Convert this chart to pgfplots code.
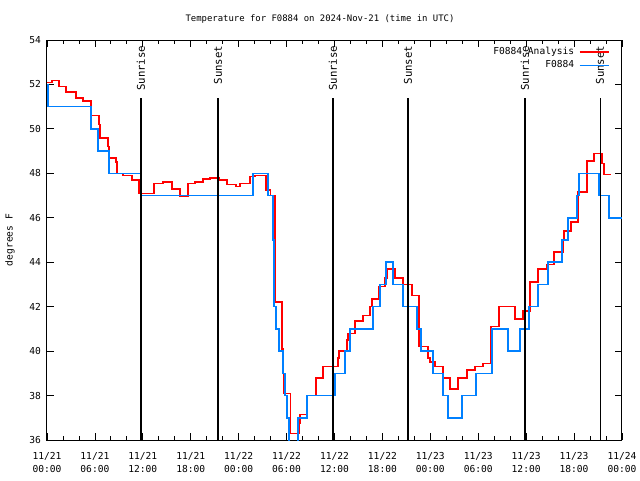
\documentclass[border=0pt]{standalone}
\usepackage{pgfplots}
\pgfplotsset{compat=1.18}
\usepackage{fontspec}
\setmainfont{DejaVu Sans Mono}
\newcommand{\gf}{\fontsize{6.7}{9.75}\selectfont}
\newcommand{\tf}{\fontsize{7.2}{9.75}\selectfont}
\newcommand{\sunf}{\fontsize{8}{9}\selectfont}
\definecolor{gblue}{RGB}{0,128,255}
\begin{document}
\begin{tikzpicture}
\path[use as bounding box] (-35.25pt,-30pt) rectangle (444.75pt,330pt);
\begin{axis}[
  at={(0,0)}, anchor=south west,
  scale only axis, width=431.25pt, height=300pt,
  xmin=0, xmax=72, ymin=36, ymax=54,
  xtick={0,6,...,72},
  xticklabels={{11/21\\00:00},{11/21\\06:00},{11/21\\12:00},{11/21\\18:00},{11/22\\00:00},{11/22\\06:00},{11/22\\12:00},{11/22\\18:00},{11/23\\00:00},{11/23\\06:00},{11/23\\12:00},{11/23\\18:00},{11/24\\00:00}},
  xticklabel style={align=center, font=\tf, yshift=-5.5pt},
  ytick={36,38,...,54},
  yticklabels={36,38,40,42,44,46,48,50,52,54},
  yticklabel style={font=\tf, xshift=-1pt},
  minor x tick num=2,
  tick align=inside, tick pos=both,
  major tick length=5pt, minor tick length=3pt,
  every tick/.style={black, line width=0.6pt},
  axis line style={line width=0.75pt},
  legend cell align=right, legend plot pos=right,
  legend image code/.code={\draw[#1, line width=1.1pt] (0pt,0pt) -- (22pt,0pt);},
  legend style={at={(0.979,0.984)}, anchor=north east, draw=none, fill=none, font=\tf, inner sep=0pt, row sep=2pt, nodes={inner xsep=3.5pt, inner ysep=0.5pt}},
]
% F0884 Analysis
\addplot[const plot, red, line width=1.1pt] coordinates {
(0,52.08) (0.63,52.17) (1.50,51.9) (2.38,51.65) (3.63,51.4) (4.51,51.25)
(5.51,50.6) (6.51,50.2) (6.64,49.6) (7.64,49.2) (7.76,48.7) (8.64,48.5)
(8.77,48.0) (9.52,47.9) (10.64,47.7) (11.52,47.1) (13.40,47.55) (14.53,47.6)
(15.65,47.3) (16.65,46.95) (17.66,47.55) (18.53,47.6) (19.53,47.75) (20.41,47.8)
(21.54,47.7) (22.54,47.5) (23.67,47.4) (24.17,47.55) (25.42,47.85) (26.04,47.9)
(27.42,47.25) (28.01,47.0) (28.55,42.2) (29.43,40.1) (29.59,38.1) (30.52,36.3)
(31.59,36.75) (31.68,37.15) (32.56,38.0) (33.68,38.8) (34.56,39.3) (36.44,39.7)
(36.56,40.0) (37.57,40.5) (37.69,40.8) (38.57,41.35) (39.57,41.6) (40.45,42.0)
(40.70,42.35) (41.57,42.9) (42.32,43.3) (42.58,43.7) (43.58,43.3) (44.58,43.0)
(45.71,42.5) (46.58,40.2) (47.71,39.7) (47.96,39.5) (48.59,39.3) (49.59,38.8)
(50.46,38.3) (51.47,38.8) (52.59,39.15) (53.59,39.3) (54.60,39.45) (55.60,41.1)
(56.60,42.0) (58.60,41.45) (59.61,41.8) (60.48,43.1) (61.48,43.7) (62.61,43.9)
(63.49,44.45) (64.61,45.0) (64.74,45.4) (65.62,45.8) (66.49,47.15) (67.62,48.55)
(68.50,48.9) (69.50,48.45) (69.75,47.95) (70.62,47.95)
};
\addlegendentry{F0884 Analysis}
% F0884
\addplot[const plot, gblue, line width=1.1pt] coordinates {
(0,52) (0.13,51) (5.51,50) (6.39,49) (7.76,48) (11.77,47) (25.80,48)
(27.67,47) (28.30,45) (28.42,42) (28.68,41) (29.05,40) (29.55,39) (29.80,38)
(30.05,37) (30.30,35) (31.43,37) (32.56,38) (36.06,39) (37.32,40) (37.94,41)
(40.82,42) (41.70,43) (42.45,44) (43.33,43) (44.58,42) (46.33,41) (46.83,40)
(48.33,39) (49.59,38) (50.21,37) (51.97,38) (53.72,39) (55.72,41) (57.73,40)
(59.23,41) (60.36,42) (61.48,43) (62.74,44) (64.49,45) (65.24,46) (66.37,47)
(66.62,48) (69.12,47) (70.37,46) (72,46)
};
\addlegendentry{F0884}
\foreach \h/\t in {11.77/Sunrise,21.41/Sunset,35.81/Sunrise,45.20/Sunset,59.85/Sunrise,69.25/Sunset}{
  \edef\tmp{\noexpand\draw[black, line width=0.8pt] (axis cs:\h,36) -- (axis cs:\h,51.39);
  \noexpand\node[rotate=90, anchor=east, font=\noexpand\sunf, inner sep=0pt] at (axis cs:\h,53.75) {\t};}
  \tmp
}
\end{axis}
\node[font=\gf] at (204.75pt,315.75pt) {Temperature for F0884 on 2024-Nov-21 (time in UTC)};
\node[font=\tf, rotate=90] at (-27.75pt,150pt) {degrees F};
\end{tikzpicture}
\end{document}
